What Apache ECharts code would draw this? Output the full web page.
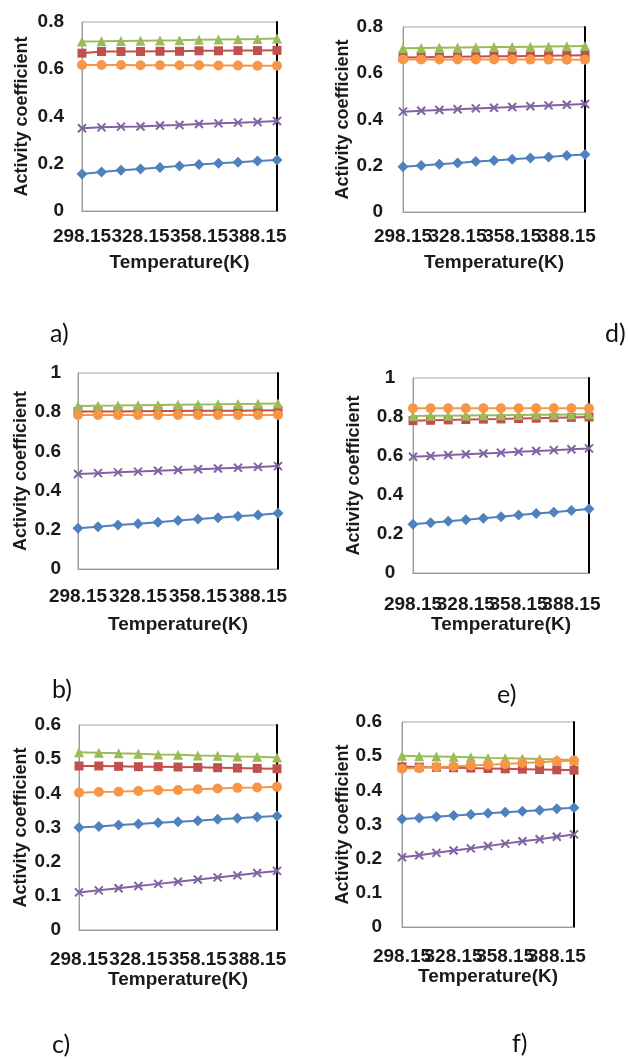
<!DOCTYPE html>
<html>
<head>
<meta charset="utf-8">
<script src="https://cdn.jsdelivr.net/npm/echarts@6/dist/echarts.min.js"></script>
<style>
html,body{margin:0;padding:0;background:#fff;}
#chart{width:628px;height:1059px;}
</style>
</head>
<body>
<div id="chart"></div>
<script>
// Category (tick) labels: temperatures in K
const temps = ['298.15','308.15','318.15','328.15','338.15','348.15','358.15','368.15','378.15','388.15','398.15'];

// Panel a)
const a_blue   = [0.157,0.165,0.172,0.178,0.184,0.191,0.197,0.202,0.206,0.212,0.216];
const a_red    = [0.668,0.675,0.675,0.675,0.676,0.676,0.678,0.678,0.679,0.679,0.680];
const a_green  = [0.717,0.718,0.720,0.721,0.722,0.723,0.725,0.726,0.727,0.728,0.730];
const a_purple = [0.350,0.354,0.357,0.358,0.362,0.364,0.368,0.371,0.374,0.377,0.381];
const a_orange = [0.618,0.618,0.618,0.617,0.617,0.617,0.617,0.616,0.616,0.615,0.615];

// Panel d)
const d_blue   = [0.196,0.201,0.207,0.212,0.218,0.223,0.228,0.233,0.238,0.244,0.249];
const d_red    = [0.668,0.669,0.670,0.671,0.672,0.673,0.674,0.675,0.676,0.677,0.678];
const d_green  = [0.708,0.709,0.710,0.711,0.712,0.713,0.714,0.715,0.716,0.717,0.718];
const d_purple = [0.434,0.438,0.441,0.444,0.448,0.451,0.454,0.457,0.461,0.464,0.467];
const d_orange = [0.660,0.660,0.660,0.660,0.660,0.660,0.660,0.659,0.659,0.658,0.658];

// Panel b)
const b_blue   = [0.208,0.216,0.224,0.231,0.239,0.248,0.255,0.262,0.269,0.276,0.284];
const b_red    = [0.803,0.804,0.804,0.805,0.806,0.806,0.807,0.808,0.808,0.809,0.810];
const b_green  = [0.832,0.833,0.834,0.836,0.837,0.838,0.839,0.840,0.842,0.843,0.845];
const b_purple = [0.485,0.489,0.493,0.497,0.501,0.505,0.509,0.513,0.517,0.521,0.525];
const b_orange = [0.786,0.786,0.786,0.786,0.786,0.786,0.786,0.786,0.786,0.786,0.786];

// Panel e)
const e_blue   = [0.250,0.258,0.266,0.273,0.281,0.289,0.297,0.305,0.312,0.320,0.328];
const e_red    = [0.781,0.783,0.785,0.787,0.789,0.790,0.792,0.794,0.796,0.798,0.800];
const e_green  = [0.805,0.806,0.807,0.808,0.809,0.809,0.810,0.811,0.812,0.813,0.814];
const e_purple = [0.596,0.600,0.605,0.609,0.613,0.617,0.622,0.626,0.630,0.635,0.639];
const e_orange = [0.845,0.845,0.845,0.845,0.845,0.845,0.845,0.845,0.845,0.845,0.845];

// Panel c)
const c_blue   = [0.300,0.303,0.307,0.310,0.314,0.317,0.320,0.324,0.327,0.331,0.334];
const c_red    = [0.480,0.480,0.479,0.478,0.478,0.477,0.476,0.475,0.474,0.473,0.472];
const c_green  = [0.520,0.519,0.517,0.516,0.514,0.513,0.511,0.510,0.508,0.507,0.505];
const c_purple = [0.110,0.116,0.122,0.129,0.135,0.141,0.148,0.154,0.160,0.167,0.173];
const c_orange = [0.402,0.404,0.405,0.407,0.409,0.410,0.412,0.414,0.416,0.417,0.419];

// Panel f)
const f_blue   = [0.316,0.319,0.323,0.326,0.329,0.333,0.336,0.339,0.342,0.346,0.349];
const f_red    = [0.469,0.468,0.467,0.466,0.465,0.464,0.463,0.462,0.461,0.460,0.459];
const f_green  = [0.501,0.500,0.499,0.498,0.497,0.495,0.494,0.493,0.492,0.490,0.489];
const f_purple = [0.204,0.210,0.217,0.224,0.230,0.237,0.244,0.251,0.257,0.264,0.271];
const f_orange = [0.463,0.465,0.468,0.470,0.473,0.475,0.477,0.480,0.482,0.485,0.487];

const panelLetters = ['a)','d)','b)','e)','c)','f)'];
const yAxisMax = [0.8,0.8,1,1,0.6,0.6];
const yAxisStep = [0.2,0.2,0.2,0.2,0.1,0.1];
const labelEvery = 3; // every third temperature is labelled
const xTitle = 'Temperature(K)';
const yTitle = 'Activity coefficient';

const panelData = [
  [a_blue,a_red,a_green,a_purple,a_orange],
  [d_blue,d_red,d_green,d_purple,d_orange],
  [b_blue,b_red,b_green,b_purple,b_orange],
  [e_blue,e_red,e_green,e_purple,e_orange],
  [c_blue,c_red,c_green,c_purple,c_orange],
  [f_blue,f_red,f_green,f_purple,f_orange]
];

// ---- layout / style (not data) ----
const layout = [
  {left:82, top:22, width:195, height:189, xm:16, xg:42, ym:18, ya:'right', yg:51, lx:50, ly:321},
  {left:403,top:27, width:182, height:185, xm:15, xg:41, ym:20, ya:'right', yg:51, lx:605,ly:321},
  {left:78, top:373,width:200, height:196, xm:18, xg:46, ym:17, ya:'right', yg:48, lx:52, ly:677},
  {left:413,top:378,width:176, height:195, xm:22, xg:40, ym:23, ya:'center',yg:50, lx:497,ly:682},
  {left:79, top:725,width:198, height:205, xm:20, xg:38, ym:18, ya:'right', yg:49, lx:52, ly:1032},
  {left:402,top:722,width:172, height:205, xm:20, xg:40, ym:20, ya:'right', yg:50, lx:512,ly:1031}
];
const colors = ['#4F81BD','#C0504D','#9BBB59','#8064A2','#F79646'];
const symbols = ['diamond','rect','triangle','path://M0,0L10,10M10,0L0,10','circle'];
const symSizes = [11,9,10,8,10];
const tickFont = {fontFamily:'Liberation Sans', fontWeight:'bold', fontSize:19, color:'#1a1a1a'};

const grid=[], xAxis=[], yAxis=[], series=[], title=[];
layout.forEach((L,i)=>{
  grid.push({left:L.left, top:L.top, width:L.width, height:L.height, show:true, borderColor:'#a6a6a6', borderWidth:1, containLabel:false});
  xAxis.push({
    type:'category', gridIndex:i, data:temps, boundaryGap:false,
    axisLine:{show:true, lineStyle:{color:'#9a9a9a', width:1}},
    axisTick:{show:false},
    axisLabel:Object.assign({interval:0, margin:L.xm, hideOverlap:false, showMinLabel:true, showMaxLabel:true,
      formatter:(v,idx)=> (idx % labelEvery === 0 && idx < temps.length-1) ? v : ''}, tickFont),
    splitLine:{show:false},
    name:xTitle, nameLocation:'middle', nameGap:L.xg,
    nameTextStyle:{fontFamily:'Liberation Sans', fontWeight:'bold', fontSize:19, color:'#1a1a1a'}
  });
  yAxis.push({
    type:'value', gridIndex:i, min:0, max:yAxisMax[i], interval:yAxisStep[i],
    axisLine:{show:true, lineStyle:{color:'#9a9a9a', width:1}},
    axisTick:{show:false},
    splitLine:{show:false},
    axisLabel:Object.assign({margin:L.ym, align:L.ya, formatter:v=>String(+v.toFixed(1))}, tickFont),
    name:yTitle, nameLocation:'middle', nameGap:L.yg,
    nameTextStyle:{fontFamily:'Liberation Sans', fontWeight:'bold', fontSize:18, color:'#1a1a1a'}
  });
  yAxis.push({
    type:'value', gridIndex:i, position:'right', min:0, max:yAxisMax[i], interval:yAxisStep[i],
    axisLine:{show:true, onZero:false, lineStyle:{color:'#000', width:2}},
    axisTick:{show:false}, axisLabel:{show:false}, splitLine:{show:false}
  });
  panelData[i].forEach((arr,k)=>{
    series.push({
      type:'line', xAxisIndex:i, yAxisIndex:2*i, data:arr,
      symbol:symbols[k], symbolSize:symSizes[k], showSymbol:true, showAllSymbol:true,
      lineStyle:{color:colors[k], width:2},
      itemStyle:{color:colors[k], borderColor:colors[k], borderWidth:k===3?2:0},
      z:2+k, animation:false, silent:true
    });
  });
  title.push({text:panelLetters[i], left:L.lx, top:L.ly, padding:0,
    textStyle:{fontFamily:'Lato', fontWeight:'normal', fontSize:25, color:'#111'}});
});

const chart = echarts.init(document.getElementById('chart'), null, {renderer:'canvas'});
chart.setOption({backgroundColor:'#fff', animation:false, title, grid, xAxis, yAxis, series});
</script>
</body>
</html>
